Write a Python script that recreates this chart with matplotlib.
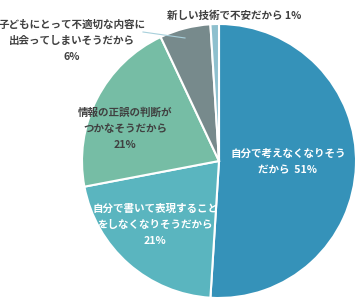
import matplotlib
matplotlib.use('Agg')
import matplotlib.pyplot as plt

plt.rcParams['font.family'] = ['Noto Sans CJK JP', 'DejaVu Sans']

# data
labels = ['自分で考えなくなりそう\nだから', '自分で書いて表現すること\nをしなくなりそうだから',
          '情報の正誤の判断が\nつかなそうだから', '子どもにとって不適切な内容に\n出会ってしまいそうだから',
          '新しい技術で不安だから']
values = [51, 21, 21, 6, 1]
colors = ['#3592B9', '#5AB5BF', '#76BDA5', '#778A8C', '#8EC0CE']

W, H = 362, 303
fig = plt.figure(figsize=(W / 100, H / 100), dpi=100)
ax = fig.add_axes([0, 0, 1, 1])
ax.set_xlim(0, W)
ax.set_ylim(0, H)
ax.axis('off')

ax.pie(values, colors=colors, startangle=90, counterclock=False,
       center=(219, H - 161), radius=137,
       wedgeprops=dict(edgecolor='white', linewidth=1.5))
ax.set_xlim(0, W)
ax.set_ylim(0, H)
ax.set_aspect('equal')

dark = '#404040'
fs = 7.6
kw = dict(fontsize=fs, fontweight='bold', ha='center', va='center', linespacing=1.75)

ax.text(288, H - 162, labels[0] + '  %d%%' % values[0], color='white', **kw)
ax.text(155, H - 225, labels[1] + '\n%d%%' % values[1], color='white', **kw)
ax.text(125, H - 129, labels[2] + '\n%d%%' % values[2], color=dark, **kw)
ax.text(72, H - 41, labels[3] + '\n%d%%' % values[3], color=dark, **kw)
ax.text(234, H - 16, labels[4] + ' %d%%' % values[4], color=dark, **kw)

# leader line for the 6% slice
ax.plot([143, 185], [H - 32, H - 38], color='#A8D0DC', linewidth=0.8)

fig.savefig('out.png', dpi=100)
